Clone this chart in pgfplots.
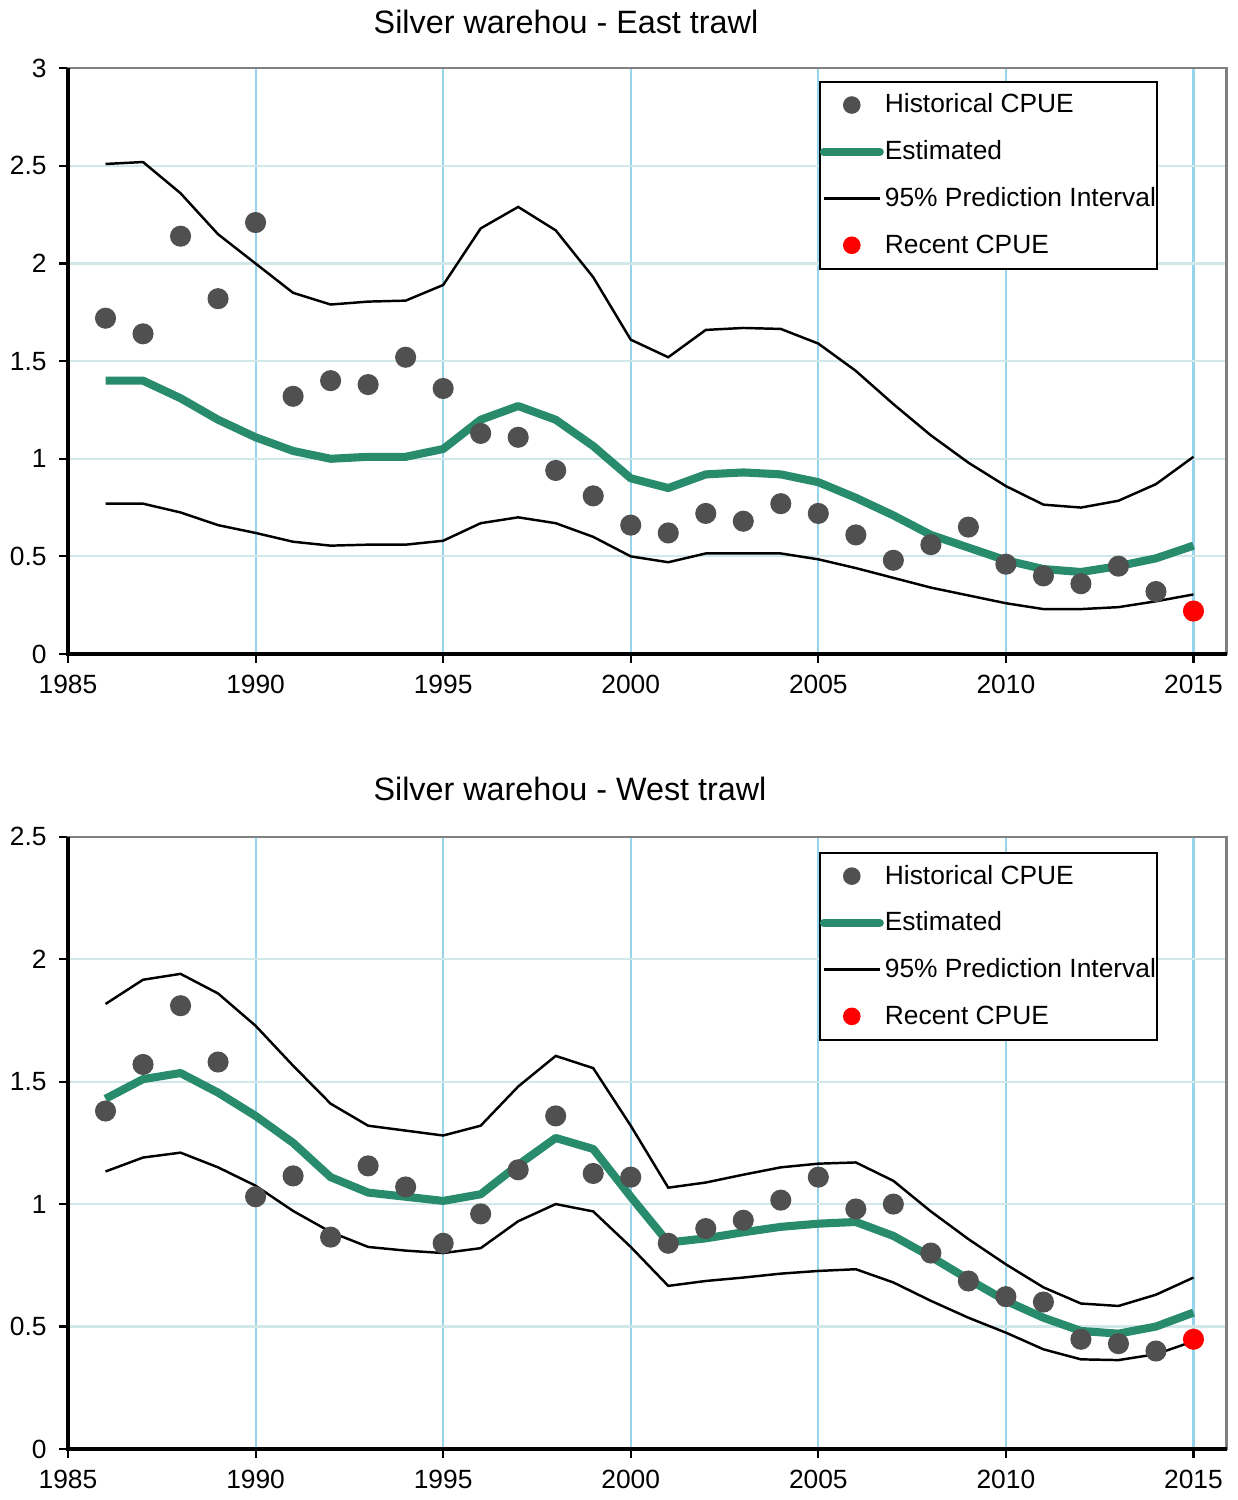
\documentclass[border=0pt]{standalone}
\usepackage{fontspec}
\setmainfont{Liberation Sans}
\usepackage{pgfplots}
\usepackage{pgfplotstable}
\pgfplotsset{compat=1.18}
\definecolor{estgreen}{RGB}{40,140,108}
\definecolor{dotgray}{RGB}{80,80,80}
\definecolor{vgrid}{RGB}{150,212,236}
\definecolor{hgrid}{RGB}{210,232,232}
\definecolor{framegray}{RGB}{128,128,128}

\pgfplotstableread{
year hist est lo hi
1986 1.72 1.40 0.77 2.51
1987 1.64 1.40 0.77 2.52
1988 2.14 1.31 0.725 2.36
1989 1.82 1.20 0.66 2.15
1990 2.21 1.11 0.62 2.00
1991 1.32 1.04 0.575 1.85
1992 1.40 1.00 0.555 1.79
1993 1.38 1.01 0.56 1.805
1994 1.52 1.01 0.56 1.81
1995 1.36 1.05 0.58 1.89
1996 1.13 1.20 0.67 2.18
1997 1.11 1.27 0.70 2.29
1998 0.94 1.20 0.67 2.17
1999 0.81 1.065 0.60 1.93
2000 0.66 0.90 0.50 1.61
2001 0.62 0.85 0.47 1.52
2002 0.72 0.92 0.515 1.66
2003 0.68 0.93 0.515 1.67
2004 0.77 0.92 0.515 1.665
2005 0.72 0.88 0.485 1.59
2006 0.61 0.80 0.44 1.45
2007 0.48 0.71 0.39 1.28
2008 0.56 0.61 0.34 1.12
2009 0.65 0.545 0.30 0.98
2010 0.46 0.48 0.26 0.86
2011 0.40 0.435 0.23 0.765
2012 0.36 0.42 0.23 0.75
2013 0.45 0.45 0.24 0.785
2014 0.32 0.49 0.27 0.87
2015 nan 0.555 0.305 1.01
}\east

\pgfplotstableread{
year hist est lo hi
1986 1.38 1.43 1.133 1.817
1987 1.57 1.51 1.19 1.916
1988 1.81 1.535 1.21 1.94
1989 1.58 1.455 1.15 1.86
1990 1.03 1.36 1.075 1.728
1991 1.115 1.25 0.972 1.565
1992 0.865 1.11 0.886 1.41
1993 1.156 1.047 0.825 1.32
1994 1.07 1.03 0.81 1.30
1995 0.84 1.013 0.80 1.28
1996 0.96 1.04 0.82 1.32
1997 1.14 1.16 0.93 1.48
1998 1.36 1.27 1.00 1.605
1999 1.125 1.225 0.97 1.555
2000 1.11 1.03 0.825 1.32
2001 0.84 0.843 0.666 1.067
2002 0.90 0.86 0.686 1.088
2003 0.934 0.885 0.70 1.12
2004 1.016 0.907 0.716 1.15
2005 1.11 0.92 0.727 1.165
2006 0.98 0.927 0.734 1.17
2007 1.00 0.87 0.68 1.095
2008 0.80 0.785 0.605 0.97
2009 0.686 0.693 0.536 0.857
2010 0.622 0.605 0.475 0.754
2011 0.60 0.536 0.407 0.66
2012 0.448 0.482 0.366 0.594
2013 0.43 0.471 0.363 0.584
2014 0.40 0.50 0.387 0.63
2015 nan 0.557 0.44 0.70
}\west

\pgfplotsset{
  cpue/.style={
    scale only axis,
    width=11.585cm,
    xmin=1985, xmax=2015.88,
    xtick={1985,1990,...,2015},
    tick pos=left,
    tick align=outside,
    major tick length=0.09cm,
    tick style={black, line width=0.6pt},
    xmajorgrids, ymajorgrids,
    x grid style={vgrid, line width=0.6pt},
    y grid style={hgrid, line width=0.6pt},
    axis line style={framegray, line width=0.6pt},
    ticklabel style={font=\fontsize{7.5}{9}\selectfont},
    /pgf/number format/assume math mode=true,
    xticklabel style={/pgf/number format/1000 sep={}},
    legend cell align=left,
    legend image code/.code={\draw[mark repeat=2,mark phase=2,##1] plot coordinates {(0cm,0cm) (0.28cm,0cm) (0.56cm,0cm)};},
    legend style={anchor=north west, draw=black, line width=0.6pt,
      font=\fontsize{7.5}{9}\selectfont,
      inner xsep=0pt, inner ysep=2.9pt, row sep=5.8pt,
      nodes={inner xsep=0.3pt, inner ysep=0pt, text height=6pt, text depth=1.5pt}},
    after end axis/.code={\draw[black, line width=1pt] (rel axis cs:0,1) -- (rel axis cs:0,0) -- (rel axis cs:1,0);},
  },
}

\begin{document}
\begin{tikzpicture}
\path[use as bounding box] (0,0) rectangle (12.38cm,15cm);

\node[font=\fontsize{9.2}{11}\selectfont] at (5.66cm,14.78cm) {Silver warehou - East trawl};
\node[font=\fontsize{9.2}{11}\selectfont] at (5.70cm,7.11cm) {Silver warehou - West trawl};

\begin{axis}[cpue,
  at={(0.68cm,8.46cm)}, anchor=south west,
  height=5.857cm,
  ymin=0, ymax=3, ytick={0,0.5,...,3},
  legend style={at={(rel axis cs:0.648,0.979)}},
]
\addlegendimage{only marks, mark=*, mark size=2.2pt, color=dotgray}
\addlegendentry{Historical CPUE}
\addlegendimage{estgreen, line width=2.3pt, line cap=round}
\addlegendentry{Estimated}
\addlegendimage{black, line width=0.7pt}
\addlegendentry{95\% Prediction Interval}
\addlegendimage{only marks, mark=*, mark size=2.2pt, color=red}
\addlegendentry{Recent CPUE}

\addplot[forget plot, black, line width=0.7pt] table[x=year, y=hi] {\east};
\addplot[forget plot, black, line width=0.7pt] table[x=year, y=lo] {\east};
\addplot[forget plot, estgreen, line width=2.3pt, line join=round] table[x=year, y=est] {\east};
\addplot[forget plot, only marks, mark=*, mark size=2.8pt, color=dotgray] table[x=year, y=hist] {\east};
\addplot[forget plot, only marks, mark=*, mark size=2.8pt, color=red] coordinates {(2015,0.22)};
\end{axis}

\begin{axis}[cpue,
  at={(0.68cm,0.51cm)}, anchor=south west,
  height=6.123cm,
  ymin=0, ymax=2.5, ytick={0,0.5,...,2.5},
  legend style={at={(rel axis cs:0.648,0.9755)}},
]
\addlegendimage{only marks, mark=*, mark size=2.2pt, color=dotgray}
\addlegendentry{Historical CPUE}
\addlegendimage{estgreen, line width=2.3pt, line cap=round}
\addlegendentry{Estimated}
\addlegendimage{black, line width=0.7pt}
\addlegendentry{95\% Prediction Interval}
\addlegendimage{only marks, mark=*, mark size=2.2pt, color=red}
\addlegendentry{Recent CPUE}

\addplot[forget plot, black, line width=0.7pt] table[x=year, y=hi] {\west};
\addplot[forget plot, black, line width=0.7pt] table[x=year, y=lo] {\west};
\addplot[forget plot, estgreen, line width=2.3pt, line join=round] table[x=year, y=est] {\west};
\addplot[forget plot, only marks, mark=*, mark size=2.8pt, color=dotgray] table[x=year, y=hist] {\west};
\addplot[forget plot, only marks, mark=*, mark size=2.8pt, color=red] coordinates {(2015,0.448)};
\end{axis}
\end{tikzpicture}
\end{document}
